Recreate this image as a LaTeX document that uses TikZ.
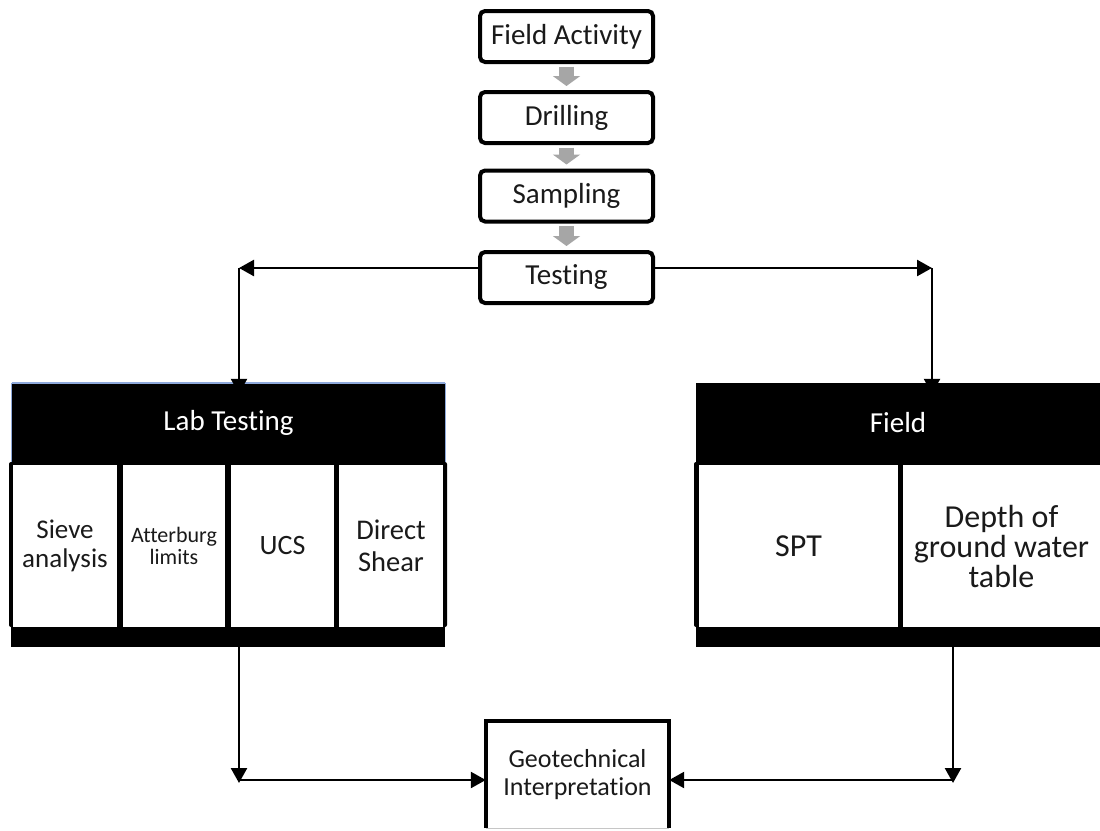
\documentclass[tikz,border=0pt]{standalone}
\usepackage{fontspec}
\setmainfont{Carlito}[Ligatures=NoCommon]
\usetikzlibrary{arrows.meta}
\definecolor{txt}{HTML}{1A1A1A}
\definecolor{flowgray}{HTML}{A6A6A6}
\definecolor{hdrblue}{HTML}{8EA9DB}
\begin{document}
\begin{tikzpicture}[x=1pt,y=-1pt,
  stepbox/.style={draw=black, line width=4pt, rounded corners=5pt, fill=white,
    minimum width=173pt, minimum height=51pt, inner sep=0pt, text=txt,
    font=\fontsize{29}{29}\selectfont},
  flow/.style={draw=flowgray, line width=15pt, shorten <=2.5pt, shorten >=4pt,
    -{Triangle[length=10pt,width=27pt]}},
  conn/.style={draw=black, line width=2.5pt},
  tipend/.style={-{Triangle[length=15pt,width=16pt]}},
  hdr/.style={fill=black, text=white, inner sep=0pt, font=\fontsize{29}{29}\selectfont},
  band/.style={fill=black, inner sep=0pt},
  cell/.style={fill=white, inner sep=0pt, align=center, text=txt, minimum height=162pt}
]
\useasboundingbox[fill=white] (0,0) rectangle (1100,830);

% main sequence
\node[stepbox] (fa) at (566.5,36.5) {Field Activity};
\node[stepbox] (dr) at (566.5,117.5) {Drilling};
\node[stepbox] (sa) at (566.5,196) {Sampling};
\node[stepbox] (ts) at (566.5,277.5) {Testing};
\draw[flow] (fa.south) -- (dr.north);
\draw[flow] (dr.south) -- (sa.north);
\draw[flow] (sa.south) -- (ts.north);

% lab testing block
\node[hdr, minimum width=433pt, minimum height=79pt] (lab) at (228.5,422.5) {Lab Testing};
\draw[hdrblue, line width=1.5pt] (lab.north west) -- (lab.north east);
\draw[hdrblue, line width=0.8pt] (lab.north west) -- (lab.south west)
  (lab.north east) -- (lab.south east);
\node[band, rounded corners=2pt, minimum width=438pt, minimum height=165pt] (labband) at (228,544.5) {};
\node[band, minimum width=434pt, minimum height=20pt] (labbase) at (228,637) {};
\node[cell, minimum width=104pt, font=\fontsize{27}{29}\selectfont] (c1) at (65,546) {Sieve\\analysis};
\node[cell, minimum width=102pt, font=\fontsize{22}{22}\selectfont] (c2) at (174,546) {Atterburg\\limits};
\node[cell, minimum width=103pt, font=\fontsize{28}{30}\selectfont] (c3) at (282.5,546) {UCS};
\node[cell, minimum width=104pt, font=\fontsize{28.5}{32}\selectfont] (c4) at (391,546) {Direct\\Shear};

% field block
\node[hdr, minimum width=404pt, minimum height=79pt] (fld) at (898,422.5) {Field};
\node[band, rounded corners=2pt, minimum width=410pt, minimum height=165pt] (fldband) at (899,544.5) {};
\node[band, minimum width=404pt, minimum height=20pt] (fldbase) at (898,637) {};
\node[cell, minimum width=199pt, font=\fontsize{32}{30}\selectfont] (f1) at (798.5,546) {SPT};
\node[cell, minimum width=197pt, font=\fontsize{32}{30}\selectfont] (f2) at (1001.5,546) {Depth of\\ground water\\table};

% result
\node[inner sep=0pt, minimum width=183pt, minimum height=107pt, align=center, text=txt,
  font=\fontsize{26}{28}\selectfont] (geo) at (577.5,774.5) {Geotechnical\\Interpretation};
\draw[gray!45, line width=1pt] (geo.south west) -- (geo.south east);
\draw[line width=4.5pt] (geo.south west) -- (geo.north west) -- (geo.north east) -- (geo.south east);

% connectors
\coordinate (tl) at (239,268);
\coordinate (tr) at (932,268);
\coordinate (bl) at (239,780);
\coordinate (br) at (953,780);
\draw[conn, tipend] (ts.west |- tl) -- (tl);
\draw[conn, tipend] (ts.east |- tr) -- (tr);
\draw[conn, tipend] (tl) -- ([yshift=-11pt]lab.north -| tl);
\draw[conn, tipend] (tr) -- ([yshift=-11pt]fld.north -| tr);
\draw[conn, tipend] (labbase.south -| bl) -- ([yshift=-3pt]bl);
\draw[conn, tipend] (fldbase.south -| br) -- ([yshift=-3pt]br);
\draw[conn, tipend] (bl) -- (geo.west |- bl);
\draw[conn, tipend] (br) -- (geo.east |- br);
\end{tikzpicture}
\end{document}
